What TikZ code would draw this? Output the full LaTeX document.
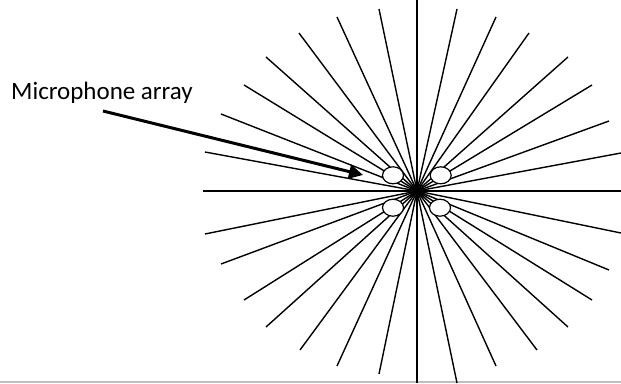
\documentclass[tikz,border=0pt]{standalone}
\usepackage{fontspec}
\setmainfont{Carlito}
\usetikzlibrary{arrows.meta,shapes.geometric}
\tikzset{
  ray/.style={draw=black,line width=1.4pt},
  axis/.style={draw=black,line width=1.5pt},
  mic/.style={draw=black,fill=white,ellipse,line width=1.2pt,minimum width=21pt,minimum height=17pt,inner sep=0pt},
  pointer/.style={draw=black,line width=3pt,-{Triangle[length=14pt,width=14pt]}},
  label/.style={font=\fontsize{25}{29}\selectfont,anchor=base west,inner sep=0pt,text=black}
}
\begin{document}
\begin{tikzpicture}[x=1pt,y=-1pt]
\useasboundingbox (0,0) rectangle (621,383);
\fill[white] (0,0) rectangle (621,383);
\draw[draw=black!25,line width=1.5pt] (0,382) -- (621,382);
\coordinate (c) at (417,191);
\foreach \n/\x/\y in {
  a1/205/152,a2/221/114,a3/244/85,a4/266/57,a5/299/33,a6/337/17,a7/379/9,
  b1/457/9,b2/496/17,b3/529/33,b4/568/57,b5/592/85,b6/609/121,b7/621/153,
  d1/205/234,d2/221/264,d3/244/300,d4/266/327,d5/300/350,d6/337/366,d7/379/374,
  e1/621/233,e2/609/270,e3/592/300,e4/568/327,e5/537/350,e6/496/366,e7/457/383}{
  \coordinate (\n) at (\x,\y);
  \draw[ray] (\n) -- (c);
}
\coordinate (top) at (417,0);
\coordinate (bot) at (417,383);
\coordinate (lft) at (203,191);
\coordinate (rgt) at (621,191);
\draw[axis] (top) -- (bot);
\draw[axis] (lft) -- (rgt);
\node[mic] (m1) at (393,175.3) {};
\node[mic] (m2) at (440.7,175.3) {};
\node[mic] (m3) at (393,207.7) {};
\node[mic] (m4) at (440,207.7) {};
\node[label] (t) at (11,99) {Microphone array};
\coordinate (as) at (103,111);
\coordinate (ae) at (363,175);
\draw[pointer] (as) -- (ae);
\end{tikzpicture}
\end{document}
